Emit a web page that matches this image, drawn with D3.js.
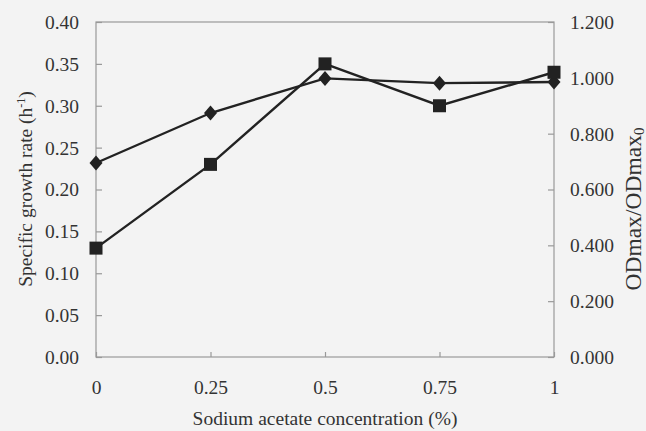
<!DOCTYPE html>
<html>
<head>
<meta charset="utf-8">
<script src="https://cdn.jsdelivr.net/npm/d3@7/dist/d3.min.js"></script>
<style>
  html, body { margin: 0; padding: 0; background: #f3f3f3; }
  svg { display: block; }
  text { font-family: "Liberation Serif", "Times New Roman", serif !important; fill: #333; }
</style>
</head>
<body>
<svg id="chart" width="646" height="431"></svg>
<script>
// Sodium acetate concentration (%)
const concentrations = [0, 0.25, 0.5, 0.75, 1];
// Specific growth rate (h^-1), left axis, square markers
const growthRate = [0.13, 0.23, 0.35, 0.30, 0.34];
// ODmax/ODmax0, right axis, diamond markers
const odRatio = [0.695, 0.874, 0.998, 0.981, 0.985];

const xTickLabels = ["0", "0.25", "0.5", "0.75", "1"];
const leftTicks = [0, 0.05, 0.10, 0.15, 0.20, 0.25, 0.30, 0.35, 0.40];
const rightTicks = [0, 0.2, 0.4, 0.6, 0.8, 1.0, 1.2];

const svg = d3.select("#chart");
const m = { left: 96, right: 554, top: 22, bottom: 357 };
const fontSize = "19.5px";

const x = d3.scaleLinear().domain([0, 1]).range([m.left, m.right]);
const yL = d3.scaleLinear().domain([0, 0.40]).range([m.bottom, m.top]);
const yR = d3.scaleLinear().domain([0, 1.2]).range([m.bottom, m.top]);

const axisColor = "#999";

// Plot frame
svg.append("rect")
  .attr("x", m.left).attr("y", m.top)
  .attr("width", m.right - m.left).attr("height", m.bottom - m.top)
  .attr("fill", "none").attr("stroke", axisColor).attr("stroke-width", 1.2);

// Left axis (ticks point into the plot)
const gL = svg.append("g").attr("transform", `translate(${m.left},0)`)
  .call(d3.axisRight(yL).tickValues(leftTicks).tickSize(6).tickFormat(d3.format(".2f")));
gL.selectAll("text").attr("x", -17).attr("text-anchor", "end");

// Right axis (ticks point into the plot)
const gR = svg.append("g").attr("transform", `translate(${m.right},0)`)
  .call(d3.axisLeft(yR).tickValues(rightTicks).tickSize(6).tickFormat(d3.format(".3f")));
gR.selectAll("text").attr("x", 16).attr("text-anchor", "start");

// Bottom axis (ticks point up into the plot)
const gB = svg.append("g").attr("transform", `translate(0,${m.bottom})`)
  .call(d3.axisTop(x).tickValues(concentrations).tickSize(5)
    .tickFormat((d, i) => xTickLabels[i]));
gB.selectAll("text").attr("y", 37).attr("dy", "0");

[gL, gR, gB].forEach(g => {
  g.attr("font-family", null).attr("font-size", null);
  g.select(".domain").remove();
  g.selectAll(".tick line").attr("stroke", axisColor).attr("stroke-width", 1.2);
  g.selectAll("text").style("font-size", fontSize).attr("fill", "#333");
});
gL.selectAll("text").attr("dy", "0.33em");
gR.selectAll("text").attr("dy", "0.33em");

// Axis titles
svg.append("text")
  .attr("x", (m.left + m.right) / 2).attr("y", 425)
  .attr("text-anchor", "middle").style("font-size", fontSize)
  .text("Sodium acetate concentration (%)");

const lt = svg.append("text")
  .attr("transform", "translate(32,189) rotate(-90)")
  .attr("text-anchor", "middle").style("font-size", fontSize);
lt.append("tspan").text("Specific growth rate (h");
lt.append("tspan").attr("dy", -7).style("font-size", "12px").text("-1");
lt.append("tspan").attr("dy", 7).text(")");

const rt = svg.append("text")
  .attr("transform", "translate(641,209) rotate(-90)")
  .attr("text-anchor", "middle").style("font-size", "23.5px");
rt.append("tspan").text("ODmax/ODmax");
rt.append("tspan").attr("dy", 3).style("font-size", "15px").text("0");

const lineColor = "#222";

// Diamond series: ODmax/ODmax0 on the right axis
const odPts = concentrations.map((c, i) => [x(c), yR(odRatio[i])]);
svg.append("path")
  .attr("d", d3.line()(odPts))
  .attr("fill", "none").attr("stroke", lineColor).attr("stroke-width", 2.4);

// Square series: growth rate on the left axis
const grPts = concentrations.map((c, i) => [x(c), yL(growthRate[i])]);
svg.append("path")
  .attr("d", d3.line()(grPts))
  .attr("fill", "none").attr("stroke", lineColor).attr("stroke-width", 2.4);

svg.selectAll("path.diamond").data(odPts).enter().append("path")
  .attr("class", "diamond")
  .attr("d", d => `M${d[0]},${d[1] - 7.5} L${d[0] + 6.5},${d[1]} L${d[0]},${d[1] + 7.5} L${d[0] - 6.5},${d[1]} Z`)
  .attr("fill", lineColor);

svg.selectAll("rect.square").data(grPts).enter().append("rect")
  .attr("class", "square")
  .attr("x", d => d[0] - 6.5).attr("y", d => d[1] - 6.5)
  .attr("width", 13).attr("height", 13)
  .attr("fill", lineColor);
</script>
</body>
</html>
